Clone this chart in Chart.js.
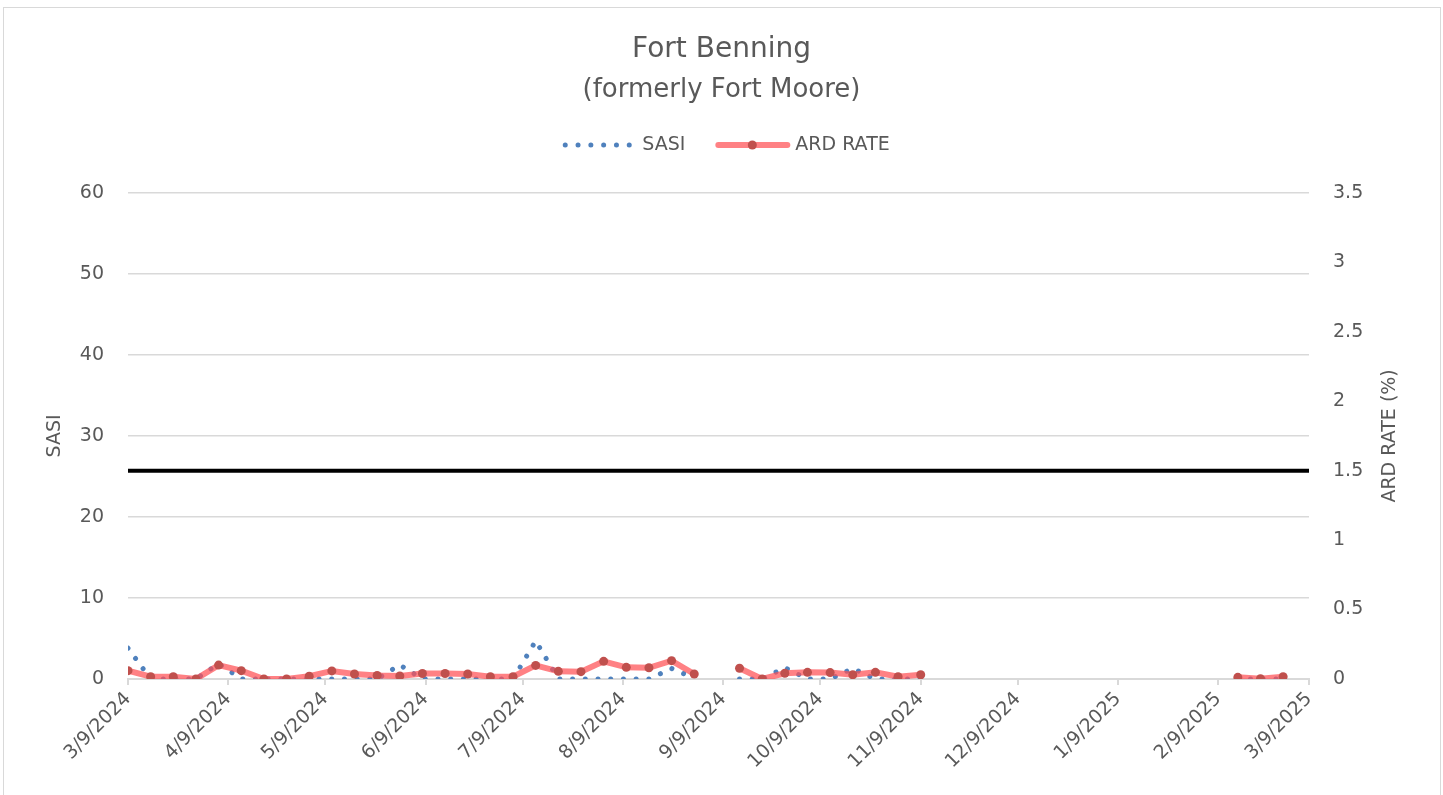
<!DOCTYPE html>
<html>
<head>
<meta charset="utf-8">
<title>Fort Benning</title>
<script src="https://cdn.jsdelivr.net/npm/chart.js@4.4.1/dist/chart.umd.min.js"></script>
<style>
  html, body { margin: 0; padding: 0; background: #fff; overflow: hidden; }
  #wrap { position: relative; width: 1443px; height: 795px; overflow: hidden; }
  #frame { position: absolute; left: 3px; top: 7px; width: 1438px; height: 820px; border: 1px solid #d9d9d9; box-sizing: border-box; }
  #chart { position: absolute; left: 0; top: 0; }
</style>
</head>
<body>
<div id="wrap">
  <div id="frame"></div>
  <canvas id="chart" width="1443" height="795"></canvas>
</div>
<script>
// weekly report dates (null rows break the lines where no data was reported)
const weeks = [
  '3/9/2024', '3/16/2024', '3/23/2024', '3/30/2024', '4/6/2024', '4/13/2024', '4/20/2024', '4/27/2024',
  '5/4/2024', '5/11/2024', '5/18/2024', '5/25/2024', '6/1/2024', '6/8/2024', '6/15/2024', '6/22/2024',
  '6/29/2024', '7/6/2024', '7/13/2024', '7/20/2024', '7/27/2024', '8/3/2024', '8/10/2024', '8/17/2024',
  '8/24/2024', '8/31/2024', '9/7/2024', '9/14/2024', '9/21/2024', '9/28/2024', '10/5/2024', '10/12/2024',
  '10/19/2024', '10/26/2024', '11/2/2024', '11/9/2024', '11/16/2024',
  '2/15/2025', '2/22/2025', '3/1/2025'
];
const sasi = [
  3.8, 0, 0, 0, 1.9, 0, 0, 0,
  0, 0, 0, 0, 1.75, 0, 0, 0,
  0, 0, 4.7, 0, 0, 0, 0, 0,
  1.3, 0.1, null, 0, 0, 1.4, 0, 0,
  1.3, 0, 0, 0, null,
  0, 0, 0
];
const ardRate = [
  0.06, 0.017, 0.017, 0.0, 0.1, 0.06, 0.0, 0.0,
  0.02, 0.058, 0.036, 0.025, 0.022, 0.04, 0.04, 0.036,
  0.017, 0.017, 0.098, 0.055, 0.053, 0.127, 0.084, 0.081,
  0.132, 0.036, null, 0.077, 0.0, 0.041, 0.048, 0.046,
  0.031, 0.048, 0.017, 0.031, null,
  0.012, 0.002, 0.017
];
const ardThreshold = 1.5;
const tickDates = [
  '3/9/2024', '4/9/2024', '5/9/2024', '6/9/2024', '7/9/2024', '8/9/2024', '9/9/2024',
  '10/9/2024', '11/9/2024', '12/9/2024', '1/9/2025', '2/9/2025', '3/9/2025'
];

// days since the first tick, so the x axis is a plain linear day scale
function dayOf(s) {
  const [m, d, y] = s.split('/').map(Number);
  return Math.round((Date.UTC(y, m - 1, d) - Date.UTC(2024, 2, 9)) / 86400000);
}
const startDay = dayOf(tickDates[0]);
const endDay = dayOf(tickDates[tickDates.length - 1]);

const FONT = '"DejaVu Sans", sans-serif';
const GREY = '#595959';
const GRID = '#d9d9d9';
const BLUE = '#4F81BD';
const RED_LINE = 'rgba(255, 80, 85, 0.72)';
const RED_DOT = '#C0504D';

// legend drawn by hand: dotted sample for SASI, line + marker for ARD RATE
const manualLegend = {
  id: 'manualLegend',
  afterDraw(chart) {
    const ctx = chart.ctx;
    const y = 145;
    ctx.save();
    ctx.font = '19px ' + FONT;
    const w1 = ctx.measureText('SASI').width;
    const w2 = ctx.measureText('ARD RATE').width;
    const total = 68 + 11 + w1 + 30 + 75 + 5 + w2;
    let x = chart.width / 2 + 5 - total / 2;

    ctx.fillStyle = BLUE;
    for (let i = 0; i < 6; i++) {
      ctx.beginPath();
      ctx.arc(x + 2 + i * 12.8, y, 2.5, 0, Math.PI * 2);
      ctx.fill();
    }
    x += 68 + 11;
    ctx.fillStyle = GREY;
    ctx.textBaseline = 'middle';
    ctx.fillText('SASI', x, y);
    x += w1 + 30;

    ctx.strokeStyle = RED_LINE;
    ctx.lineWidth = 6;
    ctx.lineCap = 'round';
    ctx.beginPath();
    ctx.moveTo(x + 3, y);
    ctx.lineTo(x + 72, y);
    ctx.stroke();
    ctx.fillStyle = RED_DOT;
    ctx.beginPath();
    ctx.arc(x + 37, y, 4.5, 0, Math.PI * 2);
    ctx.fill();
    x += 75 + 5;
    ctx.fillStyle = GREY;
    ctx.fillText('ARD RATE', x, y);
    ctx.restore();
  }
};

// right axis title reads bottom-to-top like the left one
const rightTitle = {
  id: 'rightTitle',
  afterDraw(chart) {
    const ctx = chart.ctx;
    const a = chart.chartArea;
    ctx.save();
    ctx.translate(1390, (a.top + a.bottom) / 2);
    ctx.rotate(-Math.PI / 2);
    ctx.font = '19px ' + FONT;
    ctx.fillStyle = GREY;
    ctx.textAlign = 'center';
    ctx.textBaseline = 'middle';
    ctx.fillText('ARD RATE (%)', 0, 0);
    ctx.restore();
  }
};

const toPoints = (vals) => weeks.map((w, i) => ({ x: dayOf(w), y: vals[i] }));

new Chart(document.getElementById('chart'), {
  type: 'line',
  data: {
    datasets: [
      {
        label: 'ARD RATE',
        data: toPoints(ardRate),
        yAxisID: 'y1',
        borderColor: RED_LINE,
        borderWidth: 6,
        pointRadius: 4.5,
        pointBackgroundColor: RED_DOT,
        pointBorderColor: RED_DOT,
        pointBorderWidth: 0,
        tension: 0,
        order: 1
      },
      {
        label: 'SASI',
        data: toPoints(sasi),
        yAxisID: 'y',
        borderColor: BLUE,
        borderWidth: 5,
        borderCapStyle: 'round',
        borderDash: [0.01, 12.7],
        pointRadius: 0,
        tension: 0,
        order: 2
      },
      {
        label: 'threshold',
        data: [{ x: startDay, y: ardThreshold }, { x: endDay, y: ardThreshold }],
        yAxisID: 'y1',
        borderColor: '#000',
        borderWidth: 4,
        pointRadius: 0,
        order: 3
      }
    ]
  },
  options: {
    responsive: false,
    animation: false,
    layout: { padding: 0 },
    plugins: {
      legend: { display: false },
      tooltip: { enabled: false },
      title: {
        display: true,
        text: 'Fort Benning',
        color: GREY,
        font: { family: FONT, size: 28, weight: 'normal' },
        padding: { top: 33, bottom: 8 }
      },
      subtitle: {
        display: true,
        text: '(formerly Fort Moore)',
        color: GREY,
        font: { family: FONT, size: 26, weight: 'normal' },
        padding: { top: 0, bottom: 87 }
      }
    },
    scales: {
      x: {
        type: 'linear',
        min: startDay,
        max: endDay,
        afterBuildTicks: (scale) => { scale.ticks = tickDates.map(t => ({ value: dayOf(t) })); },
        afterFit: (scale) => { scale.height = 116; },
        ticks: {
          autoSkip: false,
          minRotation: 45,
          maxRotation: 45,
          padding: 3,
          color: GREY,
          font: { family: FONT, size: 19 },
          callback: (v, i) => tickDates[i]
        },
        grid: { drawOnChartArea: false, drawTicks: true, tickLength: 6, color: GRID, lineWidth: 2 },
        border: { color: GRID, width: 2 }
      },
      y: {
        position: 'left',
        min: 0,
        max: 60,
        afterFit: (scale) => { scale.width = 128; },
        ticks: { stepSize: 10, padding: 24, color: GREY, font: { family: FONT, size: 19 } },
        grid: { color: GRID, lineWidth: 1.5, drawTicks: false },
        border: { display: false },
        title: {
          display: true,
          text: 'SASI',
          color: GREY,
          font: { family: FONT, size: 19 },
          padding: { top: 44, bottom: 0 }
        }
      },
      y1: {
        position: 'right',
        min: 0,
        max: 3.5,
        afterFit: (scale) => { scale.width = 134; },
        ticks: {
          stepSize: 0.5,
          padding: 24,
          color: GREY,
          font: { family: FONT, size: 19 },
          callback: (v) => String(v)
        },
        grid: { drawOnChartArea: false, drawTicks: false },
        border: { display: false }
      }
    }
  },
  plugins: [manualLegend, rightTitle]
});
</script>
</body>
</html>
